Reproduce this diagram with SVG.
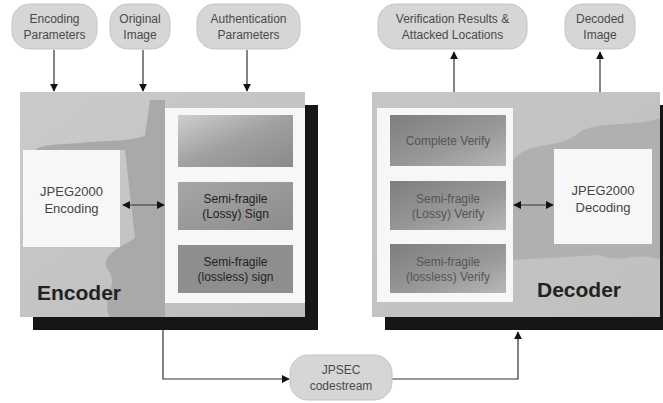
<svg xmlns="http://www.w3.org/2000/svg" width="663" height="403" viewBox="0 0 663 403">
<style>
.pill{fill:#d6d6d6;stroke:#c4c4c4;stroke-width:1}
.pt{font-family:"Liberation Sans",Arial,sans-serif;font-size:12px;fill:#4a4a4a;text-anchor:middle}
.wt{font-family:"Liberation Sans",Arial,sans-serif;font-size:13px;fill:#444;text-anchor:middle}
.bt{font-family:"Liberation Sans",Arial,sans-serif;font-size:12px;fill:#222;text-anchor:middle}
.dt{font-family:"Liberation Sans",Arial,sans-serif;font-size:12px;fill:#555;text-anchor:middle}
.big{font-family:"Liberation Sans",Arial,sans-serif;font-size:21px;font-weight:bold;fill:#222}
.ln{stroke:#333;stroke-width:1.2;fill:none}
.shadow{fill:#161616}
.white{fill:#f7f7f7}
</style>
<defs>
<marker id="ah" viewBox="0 0 10 10" refX="9" refY="5" markerWidth="8" markerHeight="8" orient="auto-start-reverse" markerUnits="userSpaceOnUse">
<path d="M0,0 L10,5 L0,10 z" fill="#111"/>
</marker>
<linearGradient id="panelE" x1="0" y1="0" x2="1" y2="1">
<stop offset="0" stop-color="#cbcbcb"/>
<stop offset="1" stop-color="#bdbdbd"/>
</linearGradient>
<linearGradient id="panelD" x1="0" y1="0" x2="1" y2="1">
<stop offset="0" stop-color="#c6c6c6"/>
<stop offset="1" stop-color="#c0c0c0"/>
</linearGradient>
<linearGradient id="boxG" x1="0" y1="0" x2="1" y2="1">
<stop offset="0" stop-color="#a6a6a6"/>
<stop offset="1" stop-color="#8c8c8c"/>
</linearGradient>
<linearGradient id="boxT" x1="0" y1="0" x2="1" y2="1">
<stop offset="0" stop-color="#cfcfcf"/>
<stop offset="0.5" stop-color="#a0a0a0"/>
<stop offset="1" stop-color="#8a8a8a"/>
</linearGradient>
<linearGradient id="boxD" x1="0" y1="0" x2="1" y2="1">
<stop offset="0" stop-color="#7e7e7e"/>
<stop offset="0.6" stop-color="#9a9a9a"/>
<stop offset="1" stop-color="#b8b8b8"/>
</linearGradient>
</defs>

<g id="connectors">
<line class="ln" x1="54" y1="50" x2="54" y2="91" marker-end="url(#ah)"/>
<line class="ln" x1="143" y1="50" x2="143" y2="91" marker-end="url(#ah)"/>
<line class="ln" x1="247" y1="50" x2="247" y2="91" marker-end="url(#ah)"/>
<line class="ln" x1="454" y1="92" x2="454" y2="52" marker-end="url(#ah)"/>
<line class="ln" x1="600" y1="92" x2="600" y2="52" marker-end="url(#ah)"/>
<polyline class="ln" points="163,330 163,379 289,379" marker-end="url(#ah)"/>
<polyline class="ln" points="392,379 518,379 518,332" marker-end="url(#ah)"/>
</g>

<g id="in-encoding-params">
<rect class="pill" x="12" y="4" width="85" height="45" rx="18"/>
<text class="pt" x="54.5" y="23">Encoding</text>
<text class="pt" x="54.5" y="39">Parameters</text>
</g>
<g id="in-original-image">
<rect class="pill" x="110" y="4" width="60" height="45" rx="18"/>
<text class="pt" x="140" y="23">Original</text>
<text class="pt" x="140" y="39">Image</text>
</g>
<g id="in-auth-params">
<rect class="pill" x="197" y="4" width="103" height="45" rx="18"/>
<text class="pt" x="248.5" y="23">Authentication</text>
<text class="pt" x="248.5" y="39">Parameters</text>
</g>
<g id="out-verification">
<rect class="pill" x="378" y="4" width="149" height="45" rx="18"/>
<text class="pt" x="452.5" y="23">Verification Results &amp;</text>
<text class="pt" x="452.5" y="39">Attacked Locations</text>
</g>
<g id="out-decoded-image">
<rect class="pill" x="565" y="4" width="70" height="45" rx="18"/>
<text class="pt" x="600" y="23">Decoded</text>
<text class="pt" x="600" y="39">Image</text>
</g>

<g id="encoder">
<rect class="shadow" x="33" y="105" width="285" height="225"/>
<rect x="20" y="92" width="285" height="225" fill="url(#panelE)"/>
<path d="M35,150 C45,143 60,145 80,143 C100,140 120,143 145,136 L150,100 L165,100 L165,317 L110,317 C100,300 120,285 108,270 C98,255 125,245 135,238 L125,150 z" fill="#a9a9a9"/>
<rect class="white" x="165" y="108" width="140" height="195"/>
<g id="enc-complete">
<rect x="178" y="115" width="115" height="52" fill="url(#boxT)"/>
</g>
<g id="enc-lossy">
<rect x="178" y="182" width="115" height="48" fill="url(#boxG)"/>
<text class="bt" x="235.5" y="203">Semi-fragile</text>
<text class="bt" x="235.5" y="218">(Lossy) Sign</text>
</g>
<g id="enc-lossless">
<rect x="178" y="245" width="115" height="48" fill="#8e8e8e"/>
<text class="bt" x="235.5" y="266" fill="#333">Semi-fragile</text>
<text class="bt" x="235.5" y="281" fill="#333">(lossless) sign</text>
</g>
<g id="jpeg2000-encoding">
<rect class="white" x="23" y="150" width="97" height="97"/>
<text class="wt" x="71.5" y="196">JPEG2000</text>
<text class="wt" x="71.5" y="213">Encoding</text>
</g>
<line class="ln" x1="123" y1="205" x2="164" y2="205" marker-start="url(#ah)" marker-end="url(#ah)"/>
<text class="big" x="37" y="300">Encoder</text>
</g>

<g id="decoder">
<rect class="shadow" x="385" y="105" width="285" height="225"/>
<rect x="372" y="92" width="288" height="225" fill="url(#panelD)"/>
<path d="M513,160 C530,140 560,150 580,132 C600,120 630,128 660,118 L660,260 C640,250 620,265 600,255 L513,260 z" fill="#b0b0b0"/>
<rect class="white" x="377" y="108" width="136" height="194"/>
<g id="dec-complete">
<rect x="390" y="115" width="116" height="51" fill="url(#boxD)"/>
<text class="dt" x="448" y="145">Complete Verify</text>
</g>
<g id="dec-lossy">
<rect x="390" y="181" width="116" height="49" fill="url(#boxD)"/>
<text class="dt" x="448" y="203">Semi-fragile</text>
<text class="dt" x="448" y="218">(Lossy) Verify</text>
</g>
<g id="dec-lossless">
<rect x="390" y="244" width="116" height="49" fill="url(#boxD)"/>
<text class="dt" x="448" y="266" fill="#6a6a6a">Semi-fragile</text>
<text class="dt" x="448" y="281" fill="#6a6a6a">(lossless) Verify</text>
</g>
<g id="jpeg2000-decoding">
<rect class="white" x="554" y="149" width="98" height="95"/>
<text class="wt" x="603" y="195">JPEG2000</text>
<text class="wt" x="603" y="212">Decoding</text>
</g>
<line class="ln" x1="514" y1="205" x2="553" y2="205" marker-start="url(#ah)" marker-end="url(#ah)"/>
<text class="big" x="537" y="297">Decoder</text>
</g>

<g id="jpsec-codestream">
<rect class="pill" x="290" y="355" width="102" height="45" rx="18"/>
<text class="pt" x="341" y="374">JPSEC</text>
<text class="pt" x="341" y="390">codestream</text>
</g>
</svg>
